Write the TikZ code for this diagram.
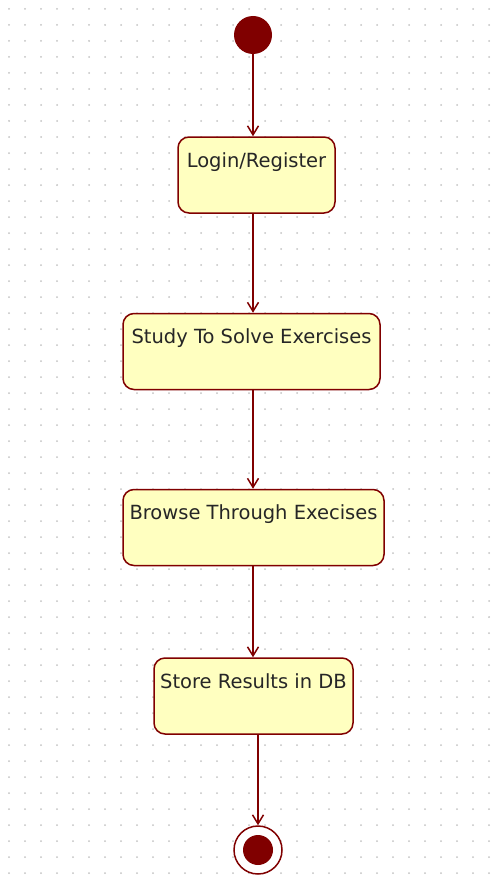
\documentclass[tikz,border=0pt]{standalone}
\usepackage{fontspec}
\setmainfont{DejaVu Sans}
\usepackage{tikz}
\usetikzlibrary{arrows.meta,positioning}
\definecolor{umlred}{RGB}{128,0,0}
\definecolor{umlfill}{RGB}{255,255,192}
\definecolor{griddot}{RGB}{195,195,195}

\begin{document}
\begin{tikzpicture}[x=1pt, y=-1pt,
        state/.style={rectangle, draw=umlred, fill=umlfill, line width=1.5pt, rounded corners=11pt, inner xsep=0pt, inner ysep=0pt, text height=30pt, text depth=46pt, font=\fontsize{19.5}{22}\selectfont, text=black!85},
        initial/.style={circle, fill=umlred, minimum size=38pt, inner sep=0pt},
        final/.style={circle, draw=umlred, line width=1.5pt, fill=white, minimum size=48pt, inner sep=0pt,
            path picture={\fill[umlred] (path picture bounding box.center) circle (15pt);}},
        arrow/.style={-{Straight Barb[length=9pt, width=11pt]}, draw=umlred, line width=1.5pt}]

        % Canvas
        \useasboundingbox (0,0) rectangle (492,880);
        \fill[white] (0,0) rectangle (492,880);
        \foreach \i in {0,...,30}
            \foreach \j in {0,...,54}
                \fill[griddot] (9+16*\i, 9+16*\j) circle (1pt);

        % States
        \node[initial] (start) at (253,35) {};
        \node[state, minimum width=157pt] (login) at (256.5,175) {Login/Register};
        \node[state, minimum width=257pt] (study) at (251.5,351.5) {Study To Solve Exercises};
        \node[state, minimum width=261pt] (browse) at (253.5,527.5) {Browse Through Execises};
        \node[state, minimum width=199pt] (store) at (253.5,696) {Store Results in DB};
        \node[final] (end) at (258,850) {};

        % Transitions
        \draw[arrow] (start) -- (start |- login.north);
        \draw[arrow] (login.south -| start) -- (study.north -| start);
        \draw[arrow] (study.south -| start) -- (browse.north -| start);
        \draw[arrow] (browse.south -| start) -- (store.north -| start);
        \draw[arrow] (store.south -| end) -- (end);

    \end{tikzpicture}
\end{document}
